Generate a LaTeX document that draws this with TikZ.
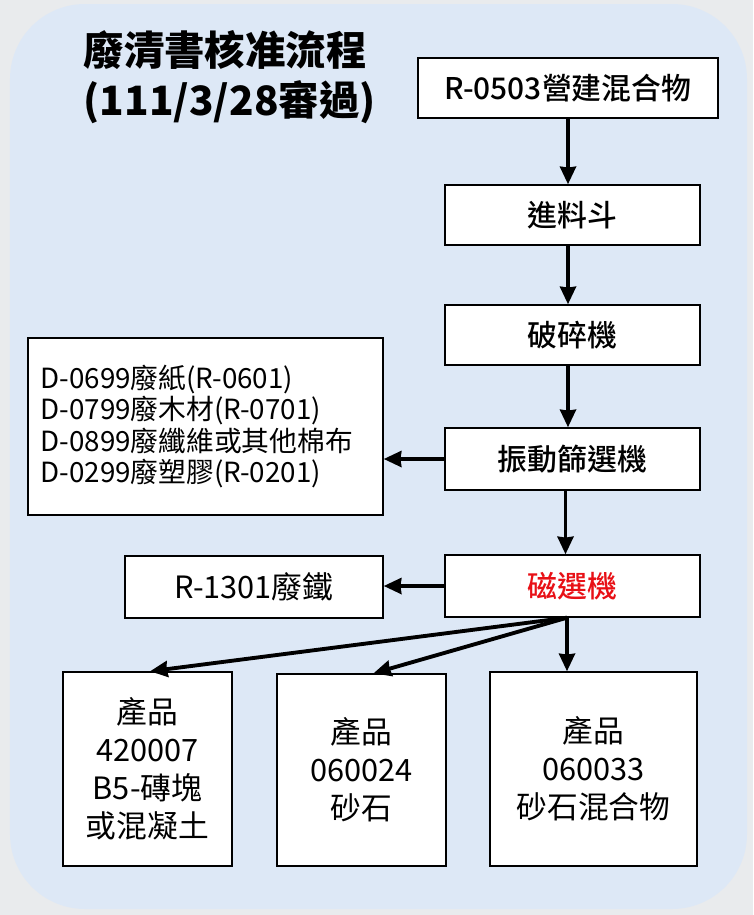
\documentclass[tikz,border=0pt]{standalone}
\usepackage{fontspec}
\setmainfont{Noto Sans CJK TC}
\newfontfamily\medfont{Noto Sans CJK TC Medium}
\usetikzlibrary{arrows.meta}
\definecolor{panelblue}{RGB}{221,232,246}
\definecolor{framegray}{RGB}{233,235,237}
\definecolor{magred}{RGB}{232,16,22}

\begin{document}
\begin{tikzpicture}[-,>={Stealth[length=10pt,width=9pt,inset=0.5pt]},
  flow node/.style={rectangle,draw=black,line width=0.8pt,fill=white,
    minimum width=5.1cm,minimum height=1.2cm,
    font=\fontsize{17}{20}\selectfont\medfont},
  out node/.style={rectangle,draw=black,line width=0.8pt,fill=white,align=center,
    font=\fontsize{17.5}{21.6}\selectfont},
  flow arrow/.style={->,line width=2.2pt}]

  % background panel
  \useasboundingbox (0,0) rectangle (15.06,-18.3);
  \fill[framegray] (0,0) rectangle (15.06,-18.3);
  \fill[panelblue,rounded corners=1.5cm] (0.2,-0.08) rectangle (14.94,-18.18);

  \node[anchor=west,align=left,font=\fontsize{23}{28.5}\selectfont\bfseries] (title) at (1.55,-1.55)
    {廢清書核准流程\\(111/3/28審過)};

  \node[flow node,minimum width=6cm] (src) at (11.36,-1.76) {R-0503營建混合物};
  \node[flow node] (hop) at (11.45,-4.30) {進料斗};
  \node[flow node] (crush) at (11.45,-6.70) {破碎機};
  \node[flow node,minimum height=1.24cm] (screen) at (11.45,-9.18) {振動篩選機};
  \node[flow node,minimum height=1.24cm,text=magred] (mag) at (11.45,-11.72) {磁選機};

  \node[out node,align=left,text width=6.6cm,inner xsep=0.25cm,minimum height=3.54cm,
    font=\fontsize{15.8}{17.8}\selectfont] (waste) at (4.11,-8.53)
    {D-0699廢紙(R-0601)\\D-0799廢木材(R-0701)\\D-0899廢纖維或其他棉布\\D-0299廢塑膠(R-0201)};
  \node[out node,minimum width=5.16cm,minimum height=1.24cm] (iron) at (5.08,-11.74) {R-1301廢鐵};

  \node[out node,minimum width=3.38cm,minimum height=3.88cm] (p1) at (2.95,-15.38)
    {產品\\420007\\B5-磚塊\\或混凝土};
  \node[out node,minimum width=3.38cm,minimum height=3.84cm] (p2) at (7.23,-15.40)
    {產品\\060024\\砂石};
  \node[out node,minimum width=4.14cm,minimum height=3.88cm] (p3) at (11.87,-15.38)
    {產品\\060033\\砂石混合物};

  \coordinate (fork) at ([xshift=-0.11cm]mag.south);

  \path[flow arrow]
    (src.south) edge (src.south |- hop.north)
    ([xshift=-0.09cm]hop.south) edge ([xshift=-0.09cm]crush.north)
    ([xshift=-0.09cm]crush.south) edge ([xshift=-0.09cm]screen.north)
    ([xshift=-0.14cm]screen.south) edge ([xshift=-0.14cm]mag.north)
    (screen.west) edge (screen.west -| waste.east)
    (mag.west) edge (mag.west -| iron.east)
    (fork) edge ([xshift=0.05cm]p1.north)
    (fork) edge ([xshift=0.24cm]p2.north)
    (fork) edge (fork |- p3.north);

\end{tikzpicture}
\end{document}
